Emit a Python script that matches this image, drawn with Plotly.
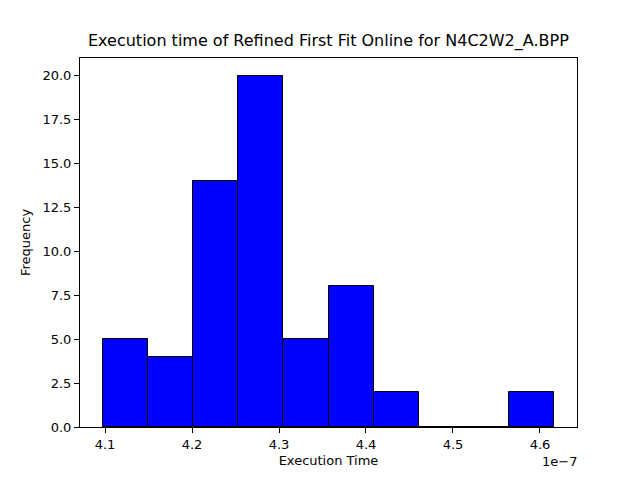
import plotly.graph_objects as go

# histogram (x in units of 1e-7 s)
bin_edges = [4.0972, 4.1491, 4.2011, 4.2530, 4.3050, 4.3569,
             4.4088, 4.4608, 4.5127, 4.5647, 4.6166]
counts = [5, 4, 14, 20, 5, 8, 2, 0, 0, 2]
x_ticks = [4.1, 4.2, 4.3, 4.4, 4.5, 4.6]
y_ticks = [0, 2.5, 5, 7.5, 10, 12.5, 15, 17.5, 20]

centers = [(a + b) / 2 for a, b in zip(bin_edges[:-1], bin_edges[1:])]
widths = [b - a for a, b in zip(bin_edges[:-1], bin_edges[1:])]

span = bin_edges[-1] - bin_edges[0]
font = dict(family="DejaVu Sans", size=13, color="black")

fig = go.Figure()
fig.add_trace(go.Bar(
    x=centers,
    y=counts,
    width=widths,
    marker_color="blue",
    marker_line_color="black",
    marker_line_width=1,
))

# page body has an 8px margin, so margins are shifted to compensate
fig.update_layout(
    width=640, height=480,
    margin=dict(l=72, r=71, t=50, b=61),
    paper_bgcolor="white", plot_bgcolor="white",
    font=font,
    showlegend=False,
    bargap=0,
)
fig.update_xaxes(
    range=[bin_edges[0] - 0.05 * span, bin_edges[-1] + 0.05 * span],
    tickvals=x_ticks, ticktext=[f"{v:.1f}" for v in x_ticks],
    showgrid=False, zeroline=False,
    showline=True, mirror=True, linecolor="black", linewidth=1,
    ticks="outside", ticklen=5, tickwidth=1, tickcolor="black",
    title=dict(text="Execution Time", font=font, standoff=5),
)
fig.update_yaxes(
    range=[0, max(counts) * 1.05],
    tickvals=y_ticks, ticktext=[f"{v:.1f}" for v in y_ticks],
    showgrid=False, zeroline=False,
    showline=True, mirror=True, linecolor="black", linewidth=1,
    ticks="outside", ticklen=5, tickwidth=1, tickcolor="black",
    title=dict(text="Frequency", font=font, standoff=8),
)
fig.add_annotation(
    text="Execution time of Refined First Fit Online for N4C2W2_A.BPP",
    xref="paper", yref="paper", x=0.5, y=1, yanchor="bottom", yshift=5,
    showarrow=False, font=dict(family="DejaVu Sans", size=16, color="black"),
)
fig.add_annotation(
    text="1e\u22127",
    xref="paper", yref="paper", x=1, y=0, xanchor="right", yanchor="top",
    yshift=-25, xshift=2, showarrow=False, font=font,
)

fig.write_html("out.html")
